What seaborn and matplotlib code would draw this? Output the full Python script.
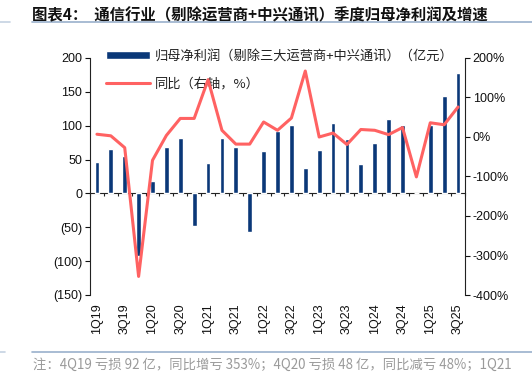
import numpy as np
import pandas as pd
import matplotlib
matplotlib.use("Agg")
import matplotlib.pyplot as plt
import seaborn as sns
from matplotlib.lines import Line2D
from matplotlib.ticker import FuncFormatter, MultipleLocator

# 数据
quarters = ["1Q19", "2Q19", "3Q19", "4Q19",
            "1Q20", "2Q20", "3Q20", "4Q20",
            "1Q21", "2Q21", "3Q21", "4Q21",
            "1Q22", "2Q22", "3Q22", "4Q22",
            "1Q23", "2Q23", "3Q23", "4Q23",
            "1Q24", "2Q24", "3Q24", "4Q24",
            "1Q25", "2Q25", "3Q25"]
profit = [47, 65, 55, -92,
          18, 69, 82, -48,
          45, 82, 68, -57,
          63, 92, 101, 38,
          64, 104, 81, 44,
          74, 110, 101, 0,
          101, 144, 178]
yoy = [7, 3, -27, -353,
       -59, 4, 47, 47,
       145, 17, -18, -18,
       38, 17, 48, 167,
       0, 10, -19, 19,
       17, 6, 24, -101,
       36, 31, 76]

df = pd.DataFrame({"quarter": quarters, "profit": profit, "yoy": yoy})
df["pos"] = np.arange(len(df))

BAR = "#0A3878"
LINE = "#FF6262"

sns.set_style("white")
plt.rcParams["font.family"] = ["Liberation Sans", "Noto Sans CJK SC", "DejaVu Sans"]
cjk = ["Noto Sans CJK SC", "DejaVu Sans"]

fig = plt.figure(figsize=(5.32, 3.76), dpi=100)
ax = fig.add_axes([90/532, 1-295/376, 375/532, 237/376])

sns.barplot(data=df, x="quarter", y="profit", color=BAR, width=0.34,
            saturation=1, ax=ax, label="归母净利润（剔除三大运营商+中兴通讯）（亿元）")
ax.set_xlim(-0.5, len(df) - 0.5)
ax.set_ylim(-150, 200)
ax.yaxis.set_major_locator(MultipleLocator(50))
ax.yaxis.set_major_formatter(FuncFormatter(lambda v, p: f"({abs(v):.0f})" if v < 0 else f"{v:.0f}"))
ax.set_xlabel("")
ax.set_ylabel("")
ax.set_xticks(df["pos"][::2])
ax.set_xticklabels(df["quarter"][::2], rotation=90)
ax.tick_params(axis="x", length=0, pad=6, labelsize=9, colors="#111111")
ax.tick_params(axis="y", direction="out", length=3.5, width=0.8, pad=2, labelsize=9,
               colors="#111111", left=True)
for s in ["top", "right", "bottom"]:
    ax.spines[s].set_visible(False)
ax.spines["left"].set_color("#222222")
ax.spines["left"].set_linewidth(0.8)

# 零轴
zero = ax.secondary_xaxis(150/350)
zero.set_xticks(np.arange(-0.5, len(df), 1))
zero.tick_params(axis="x", direction="out", length=2.5, width=0.8, labelbottom=False,
                 colors="#222222")
zero.spines["bottom"].set_color("#222222")
zero.spines["bottom"].set_linewidth(0.8)

ax2 = ax.twinx()
sns.lineplot(data=df, x="pos", y="yoy", color=LINE, lw=2.2, ax=ax2,
             label="同比（右轴，%）")
ax2.set_ylim(-400, 200)
ax2.yaxis.set_major_locator(MultipleLocator(100))
ax2.yaxis.set_major_formatter(FuncFormatter(lambda v, p: f"{v:.0f}%"))
ax2.set_ylabel("")
ax2.set_xlabel("")
ax2.tick_params(axis="y", direction="out", length=3.5, width=0.8, pad=2, labelsize=9,
                colors="#111111", right=True)
for s in ["top", "left", "bottom"]:
    ax2.spines[s].set_visible(False)
ax2.spines["right"].set_color("#222222")
ax2.spines["right"].set_linewidth(0.8)
ax.set_xlim(-0.5, len(df) - 0.5)

# 图例放在下层坐标轴，折线压在图例之上
h1, l1 = ax.get_legend_handles_labels()
h2, l2 = ax2.get_legend_handles_labels()
if ax2.get_legend():
    ax2.get_legend().remove()
leg = ax.legend(h1 + h2, l1 + l2, loc="upper left", bbox_to_anchor=(0.043, 1.035),
                frameon=False, borderpad=0, borderaxespad=0, handlelength=3.3,
                handleheight=0.5, handletextpad=0.4, labelspacing=1.1,
                prop={"family": cjk, "size": 9.5})
for t in leg.get_texts():
    t.set_color("#222222")

# 标题与注释
fig.text(32/532, 1-15/376, "图表4：  通信行业（剔除运营商+中兴通讯）季度归母净利润及增速",
         family=cjk, weight="bold", size=11.1, va="center", ha="left", color="#111111")
fig.add_artist(Line2D([32/532, 1], [1-22/376, 1-22/376], transform=fig.transFigure,
                      color="#9AB0CC", lw=1.2))
fig.add_artist(Line2D([0, 10/532], [1-22/376, 1-22/376], transform=fig.transFigure,
                      color="#C5D2E2", lw=1.2))
fig.add_artist(Line2D([32/532, 1], [1-352/376, 1-352/376], transform=fig.transFigure,
                      color="#9AB0CC", lw=1.2))
fig.add_artist(Line2D([0, 5/532], [1-352/376, 1-352/376], transform=fig.transFigure,
                      color="#C5D2E2", lw=1.2))
fig.text(33/532, 1-365/376, "注：4Q19 亏损 92 亿，同比增亏 353%；4Q20 亏损 48 亿，同比减亏 48%；1Q21",
         family=cjk, size=9.6, va="center", ha="left", color="#9A9A9A")

fig.savefig("out.png", dpi=100)
